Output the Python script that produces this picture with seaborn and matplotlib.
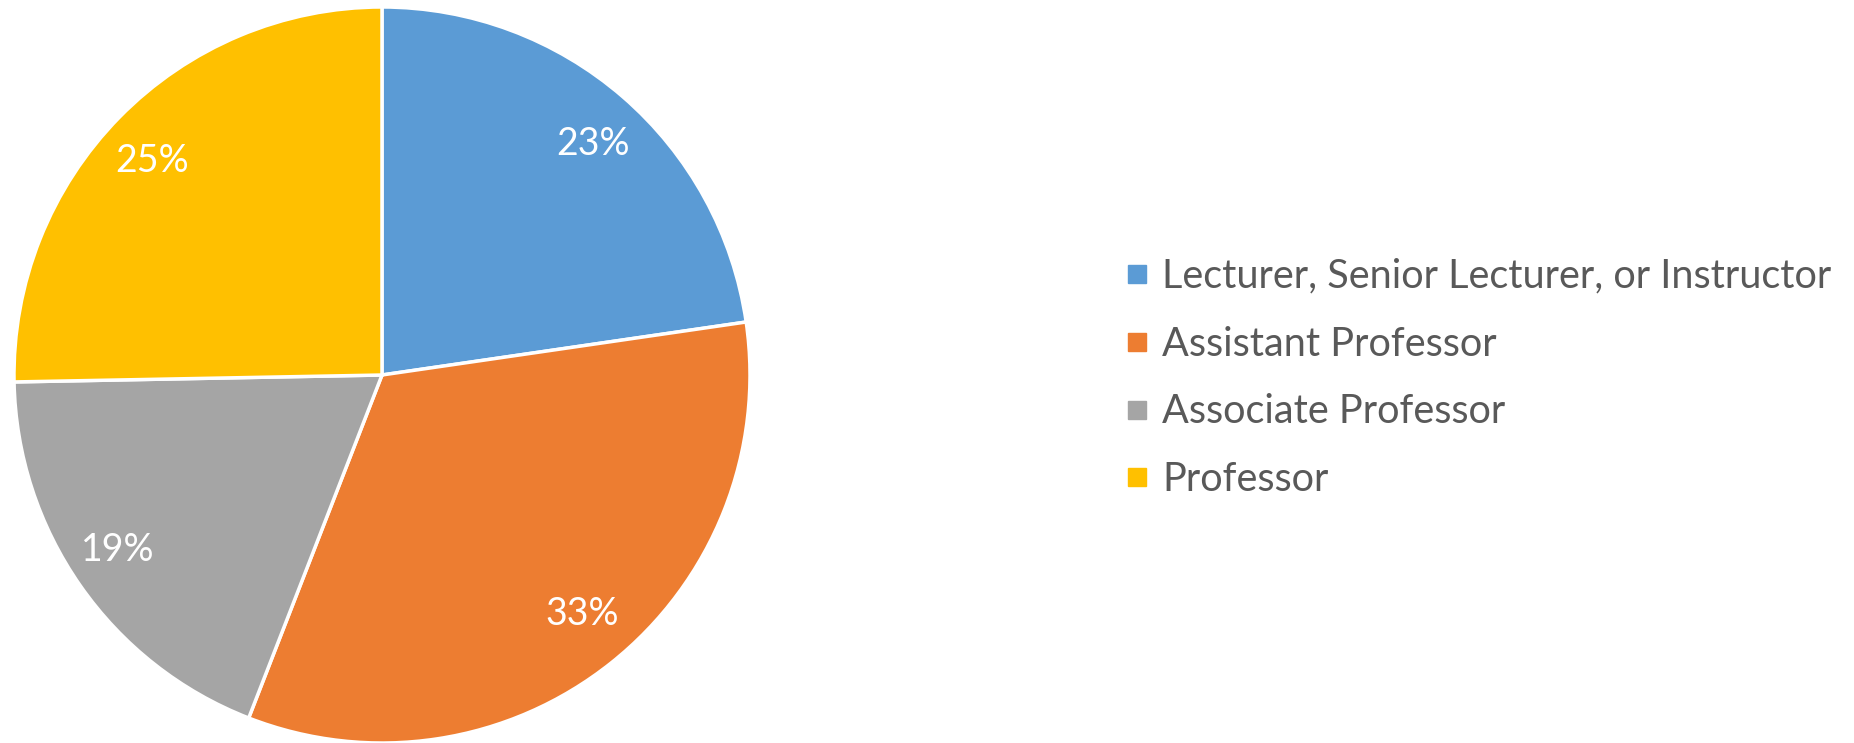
import matplotlib
matplotlib.use("Agg")
import matplotlib.pyplot as plt
import seaborn as sns
import numpy as np
from matplotlib.lines import Line2D

categories = ["Lecturer, Senior Lecturer, or Instructor", "Assistant Professor",
              "Associate Professor", "Professor"]
shares = [22.7, 33.2, 18.8, 25.3]
pct_labels = ["23%", "33%", "19%", "25%"]
colors = sns.color_palette(["#5B9BD5", "#ED7D31", "#A5A5A5", "#FFC000"])

sns.set_theme(style="white")
plt.rcParams["font.family"] = ["Lato", "DejaVu Sans"]

fig = plt.figure(figsize=(18.54, 7.43), dpi=100)
ax = fig.add_axes([14 / 1854, 0, 736 / 1854, 736 / 743])

wedges, texts = ax.pie(shares, colors=colors, startangle=90, counterclock=False,
                       wedgeprops=dict(edgecolor="white", linewidth=2.5))
ax.set_xlim(-1, 1)
ax.set_ylim(-1, 1)
ax.set_aspect("equal")
ax.axis("off")

# percentage labels inside wedges
for w, lab in zip(wedges, pct_labels):
    mid = np.deg2rad((w.theta1 + w.theta2) / 2)
    ax.text(0.875 * np.cos(mid), 0.83 * np.sin(mid), lab, color="white",
            fontsize=27, ha="center", va="center")

handles = [Line2D([], [], marker="s", linestyle="none", markersize=13,
                  markerfacecolor=c, markeredgecolor=c) for c in colors]
fig.legend(handles, categories, loc="center left",
           bbox_to_anchor=(1089 / 1854, 365 / 743), frameon=False,
           fontsize=28.5, labelcolor="#595959", handletextpad=0.35,
           labelspacing=0.78, handlelength=0.6)

fig.savefig("out.png", dpi=100)
